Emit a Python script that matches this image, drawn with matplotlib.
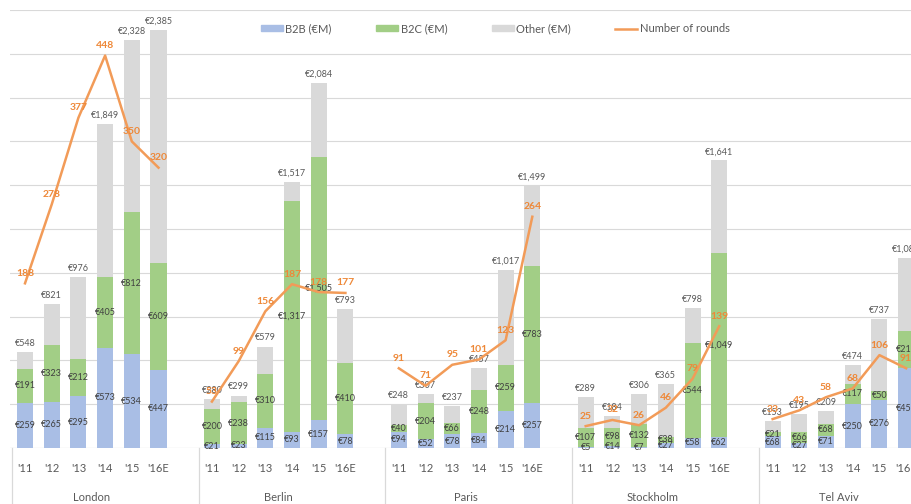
import numpy as np
import matplotlib
matplotlib.use("Agg")
import matplotlib.pyplot as plt
import matplotlib.transforms as mtransforms
from matplotlib.patches import Patch
from matplotlib.lines import Line2D

plt.rcParams["font.family"] = ["Lato", "DejaVu Sans"]

CITIES = ["London", "Berlin", "Paris", "Stockholm", "Tel Aviv"]
YEARS = ["'11", "'12", "'13", "'14", "'15", "'16E"]

# funding per segment, EUR millions (rows follow CITIES)
B2B = [
    [259, 265, 295, 573, 534, 447],
    [21, 23, 115, 93, 157, 78],
    [94, 52, 78, 84, 214, 257],
    [5, 14, 7, 27, 58, 62],
    [68, 27, 71, 250, 276, 455],
]
B2C = [
    [191, 323, 212, 405, 812, 609],
    [200, 238, 310, 1317, 1505, 410],
    [40, 204, 66, 248, 259, 783],
    [107, 98, 132, 38, 544, 1049],
    [21, 66, 68, 117, 50, 213],
]
TOTAL = [
    [548, 821, 976, 1849, 2328, 2385],
    [280, 299, 579, 1517, 2084, 793],
    [248, 307, 237, 457, 1017, 1499],
    [289, 184, 306, 365, 798, 1641],
    [153, 195, 209, 474, 737, 1085],
]
ROUNDS = [
    [188, 278, 377, 448, 350, 320],
    [53, 99, 156, 187, 178, 177],
    [91, 71, 95, 101, 123, 264],
    [25, 32, 26, 46, 79, 139],
    [33, 43, 58, 68, 106, 91],
]

C_B2B = "#A9BEE5"
C_B2C = "#A2CE86"
C_OTHER = "#D9D9D9"
C_LINE = "#F29B58"
C_LINE_TXT = "#EE8838"
C_GRID = "#D9D9D9"
C_TXT = "#595959"
C_SEG = "#404040"

GROUP_STRIDE = 7  # six years plus one empty slot per city
BAR_W = 0.6

fig = plt.figure(figsize=(9.12, 5.04), dpi=100)
ax = fig.add_axes([10 / 912, 56 / 504, 902 / 912, 438 / 504])
ax.set_xlim(-0.562, 33.22)
ax.set_ylim(0, 2500)
for v in np.arange(250, 2501, 250):
    ax.axhline(v, color=C_GRID, lw=0.8, zorder=0)
ax.axhline(0, color=C_GRID, lw=0.9, zorder=0)
for s in ax.spines.values():
    s.set_visible(False)
ax.set_xticks([])
ax.set_yticks([])

below = mtransforms.blended_transform_factory(ax.transData, ax.transAxes)

for g, city in enumerate(CITIES):
    x = GROUP_STRIDE * g + np.arange(len(YEARS))
    b2b = np.array(B2B[g])
    b2c = np.array(B2C[g])
    total = np.array(TOTAL[g])
    other = total - b2b - b2c

    ax.bar(x, b2b, BAR_W, color=C_B2B, zorder=2)
    ax.bar(x, b2c, BAR_W, bottom=b2b, color=C_B2C, zorder=2)
    ax.bar(x, other, BAR_W, bottom=b2b + b2c, color=C_OTHER, zorder=2)

    for xi, a, b, t in zip(x, b2b, b2c, total):
        ax.text(xi, a / 2, f"€{a:,}", ha="center", va="center",
                fontsize=6.5, color=C_SEG, zorder=3)
        ax.text(xi, a + b / 2, f"€{b:,}", ha="center", va="center",
                fontsize=6.5, color=C_SEG, zorder=3)
        ax.annotate(f"€{t:,}", (xi, t), xytext=(0, 3), textcoords="offset points",
                    ha="center", va="bottom", fontsize=6.5, color=C_TXT, zorder=3)

    # category axis: year ticks, city name and group separators
    for xi, yr in zip(x, YEARS):
        ax.text(xi, -0.046, yr, transform=below, ha="center", va="center",
                fontsize=8, color=C_TXT, clip_on=False)
    ax.text(GROUP_STRIDE * g + 2.5, -0.112, city, transform=below,
            ha="center", va="center", fontsize=8, color=C_TXT, clip_on=False)
    ax.plot([GROUP_STRIDE * g - 0.5] * 2, [0, -0.14], transform=below,
            color=C_GRID, lw=0.9, clip_on=False)

# number of rounds on a hidden secondary scale
ax2 = ax.twinx()
ax2.set_ylim(0, 500)
ax2.set_yticks([])
for s in ax2.spines.values():
    s.set_visible(False)
for g in range(len(CITIES)):
    x = GROUP_STRIDE * g + np.arange(len(YEARS))
    ax2.plot(x, ROUNDS[g], color=C_LINE, lw=1.8, zorder=4)
    for xi, r in zip(x, ROUNDS[g]):
        ax2.annotate(str(r), (xi, r), xytext=(0, 4), textcoords="offset points",
                     ha="center", va="bottom", fontsize=7.5, fontweight="bold",
                     color=C_LINE_TXT, zorder=5)

handles = [
    Patch(color=C_B2B),
    Patch(color=C_B2C),
    Patch(color=C_OTHER),
    Line2D([], [], color=C_LINE, lw=1.8),
]
labels = ["B2B (€M)", "B2C (€M)", "Other (€M)", "Number of rounds"]
fig.legend(handles, labels, loc="center", bbox_to_anchor=(0.543, 0.943), ncol=4,
           frameon=False, fontsize=8, labelcolor=C_TXT, handlelength=2.0,
           handleheight=0.45, handletextpad=0.2, columnspacing=4.0)

fig.savefig("out.png", dpi=100)
